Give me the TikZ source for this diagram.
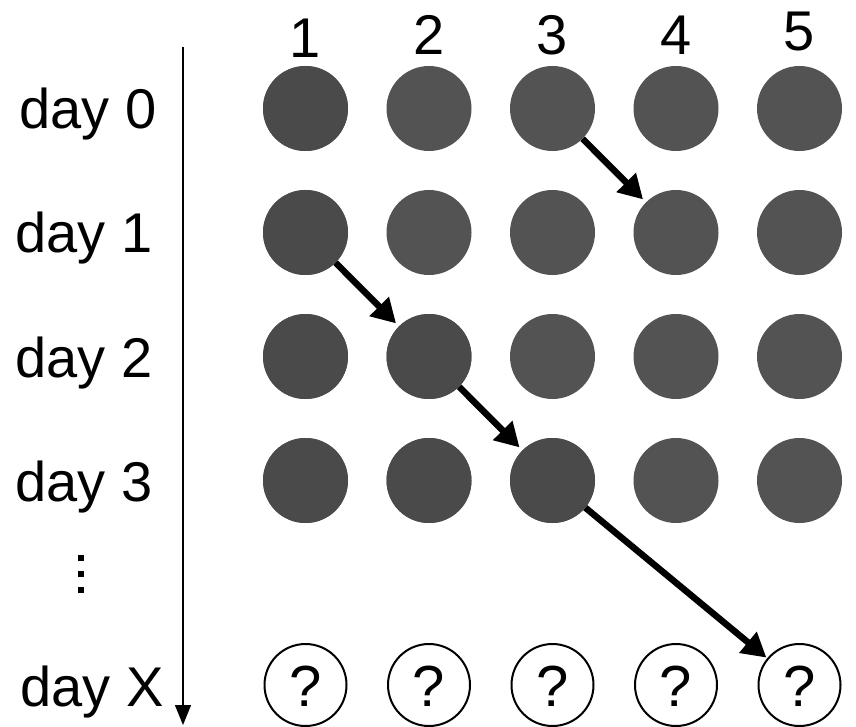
\documentclass[tikz,border=0pt]{standalone}
\usepackage{fontspec}
\setmainfont{Liberation Sans}
\usetikzlibrary{arrows.meta}
\definecolor{dotA}{HTML}{4A4A4A}
\definecolor{dotB}{HTML}{535353}
\begin{document}
\begin{tikzpicture}[x=1pt,y=1pt,
  lbl/.style={font=\fontsize{56}{60}\selectfont, inner sep=0pt, anchor=base},
  dotdark/.style={circle, fill=dotA, minimum size=85pt, inner sep=0pt},
  dotlight/.style={circle, fill=dotB, minimum size=85pt, inner sep=0pt},
  qcircle/.style={circle, draw=black, line width=2pt, minimum size=82pt, inner sep=0pt},
  qmark/.style={font=\fontsize{58}{60}\selectfont, inner sep=0pt, anchor=base},
  vdot/.style={fill=black, minimum size=6pt, inner sep=0pt, rectangle},
  hop/.style={line width=6.5pt, -{Triangle[length=24pt,width=26pt]}, shorten >=4pt},
]
\useasboundingbox (0,0) rectangle (856,-727);
% column labels
\node[lbl] (c1) at (305.5,-58) {1};
\node[lbl] (c2) at (429,-55) {2};
\node[lbl] (c3) at (552.5,-55) {3};
\node[lbl] (c4) at (676,-55) {4};
\node[lbl] (c5) at (799.5,-51) {5};
% row labels
\node[lbl] (r0) at (88,-129) {day 0};
\node[lbl] (r1) at (84,-253) {day 1};
\node[lbl] (r2) at (84,-377) {day 2};
\node[lbl] (r3) at (84,-501) {day 3};
\node[lbl] (rx) at (92,-706) {day X};
\node[vdot] (vd1) at (81,-558) {};
\node[vdot] (vd2) at (81,-574) {};
\node[vdot] (vd3) at (81,-590) {};
% time axis
\coordinate (axtop) at (183,-47);
\coordinate (axbot) at (183,-725);
\draw[line width=1.3pt, -{Triangle[length=20pt,width=16pt]}] (axtop) -- (axbot);
% grid of dots
\foreach \r/\y in {0/108.5,1/232.5,2/356.5,3/480.5}{
  \foreach \c/\x in {1/305.5,2/429,3/552.5,4/676,5/799.5}{
    \node[dotlight] (n\r\c) at (\x,-\y) {};
  }
}
\foreach \r/\c in {0/1,1/1,2/1,3/1,2/2,3/2,3/3}{
  \node[dotdark] at (n\r\c) {};
}
% unknown day
\foreach \c/\x in {1/305.5,2/429,3/552.5,4/676,5/799.5}{
  \node[qcircle] (q\c) at (\x,-685) {};
  \node[qmark] at (\x,-706) {?};
}
% arrows
\draw[hop] (n03) -- (n14);
\draw[hop] (n11) -- (n22);
\draw[hop] (n22) -- (n33);
\draw[hop, shorten >=1pt] (n33) -- (q5);
\end{tikzpicture}
\end{document}
